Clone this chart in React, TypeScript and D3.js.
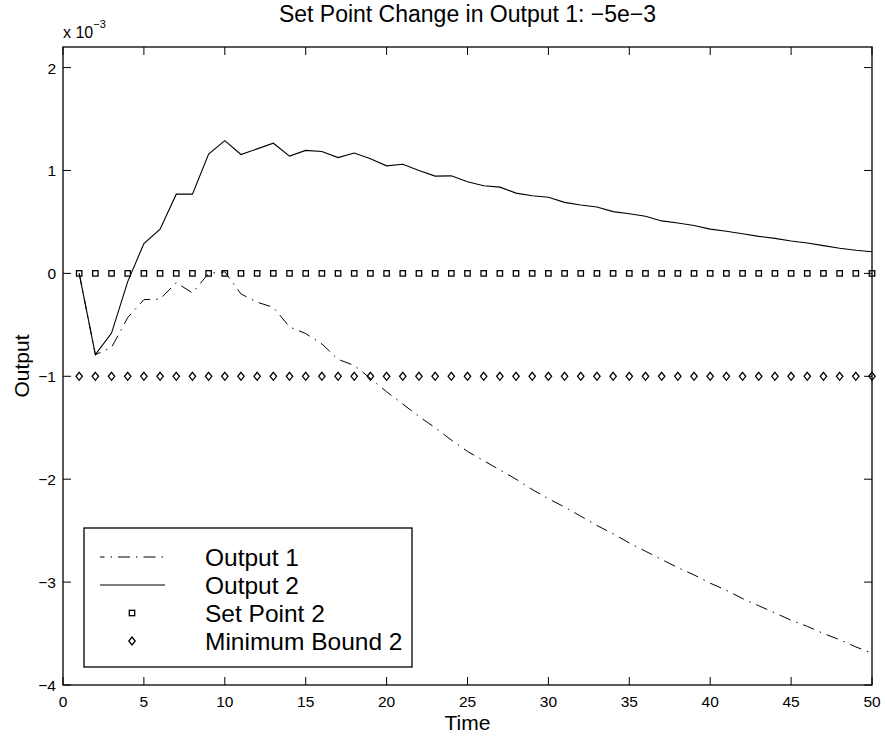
import React from "react";
import * as d3 from "d3";

const time: number[] = d3.range(1, 51);

const output1: number[] = [
  0, -0.79, -0.72, -0.43, -0.255, -0.25, -0.09, -0.19, 0.0, 0.015,
  -0.2, -0.28, -0.33, -0.52, -0.585, -0.685, -0.835, -0.895, -1.02, -1.15,
  -1.27, -1.39, -1.5, -1.62, -1.73, -1.82, -1.91, -2.0, -2.1, -2.19,
  -2.27, -2.36, -2.45, -2.53, -2.62, -2.7, -2.78, -2.86, -2.93, -3.01,
  -3.08, -3.16, -3.23, -3.3, -3.37, -3.43, -3.5, -3.56, -3.63, -3.69,
];

const output2: number[] = [
  0, -0.79, -0.58, -0.08, 0.29, 0.43, 0.77, 0.77, 1.16, 1.29,
  1.155, 1.21, 1.265, 1.14, 1.195, 1.185, 1.125, 1.17, 1.115, 1.045,
  1.06, 1.0, 0.945, 0.948, 0.89, 0.852, 0.838, 0.78, 0.755, 0.74,
  0.69, 0.665, 0.645, 0.6, 0.58, 0.555, 0.51, 0.49, 0.465, 0.43,
  0.41, 0.385, 0.36, 0.34, 0.315, 0.295, 0.27, 0.245, 0.225, 0.21,
];

const setPoint2Value = 0;
const minBound2Value = -1;

const xTicks: number[] = [0, 5, 10, 15, 20, 25, 30, 35, 40, 45, 50];
const yTicks: number[] = [-4, -3, -2, -1, 0, 1, 2];

const legendLabels: string[] = ["Output 1", "Output 2", "Set Point 2", "Minimum Bound 2"];

const W = 885;
const H = 736;
const M = { left: 63, right: 872, top: 47, bottom: 685 };
const FONT = "'Liberation Sans', Arial, Helvetica, sans-serif";
const DASHDOT = "12,6,1.5,6";

function fmt(v: number) {
  return v < 0 ? "\u2212" + Math.abs(v) : String(v);
}

function Square({ cx, cy }: { cx: number; cy: number }) {
  return <rect x={cx - 2.7} y={cy - 2.7} width={5.4} height={5.4} fill="none" stroke="#000" strokeWidth={1.3} />;
}

function Diamond({ cx, cy }: { cx: number; cy: number }) {
  const p = `M${cx},${cy - 4}L${cx + 3.2},${cy}L${cx},${cy + 4}L${cx - 3.2},${cy}Z`;
  return <path d={p} fill="none" stroke="#000" strokeWidth={1.3} />;
}

export default function App() {
  const x = d3.scaleLinear().domain([0, 50]).range([M.left, M.right]);
  const y = d3.scaleLinear().domain([-4, 2.2]).range([M.bottom, M.top]);

  const line = d3
    .line<number>()
    .x((_, i) => x(time[i]))
    .y((d) => y(d));

  const tick = 8;
  const legX0 = 84, legY0 = 528, legX1 = 412, legY1 = 667;
  const rowY = [557, 585, 613, 641];

  return (
    <svg
      width={W}
      height={H}
      style={{ position: "absolute", left: 0, top: 0, display: "block", background: "#fff" }}
      fontFamily={FONT}
    >
      <rect x={0} y={0} width={W} height={H} fill="#fff" />

      {/* ticks */}
      {xTicks.map((t) => (
        <g key={"xt" + t}>
          <line x1={x(t)} x2={x(t)} y1={M.bottom} y2={M.bottom - tick} stroke="#000" strokeWidth={1} />
          <line x1={x(t)} x2={x(t)} y1={M.top} y2={M.top + tick} stroke="#000" strokeWidth={1} />
          <text x={x(t)} y={707} fontSize={15.5} textAnchor="middle">{fmt(t)}</text>
        </g>
      ))}
      {yTicks.map((t) => (
        <g key={"yt" + t}>
          <line x1={M.left} x2={M.left + tick} y1={y(t)} y2={y(t)} stroke="#000" strokeWidth={1} />
          <line x1={M.right} x2={M.right - tick} y1={y(t)} y2={y(t)} stroke="#000" strokeWidth={1} />
          <text x={56} y={y(t) + 6} fontSize={15.5} textAnchor="end">{fmt(t)}</text>
        </g>
      ))}

      {/* exponent */}
      <text x={63} y={38} fontSize={16}>
        x 10
        <tspan dy={-10} fontSize={11}>{"\u22123"}</tspan>
      </text>

      {/* markers */}
      {time.map((t) => (
        <Square key={"sq" + t} cx={x(t)} cy={y(setPoint2Value)} />
      ))}
      {time.map((t) => (
        <Diamond key={"dm" + t} cx={x(t)} cy={y(minBound2Value)} />
      ))}

      {/* lines */}
      <path d={line(output1) || ""} fill="none" stroke="#000" strokeWidth={1} strokeDasharray={DASHDOT} />
      <path d={line(output2) || ""} fill="none" stroke="#000" strokeWidth={1.1} />

      {/* axes box */}
      <rect x={M.left} y={M.top} width={M.right - M.left} height={M.bottom - M.top} fill="none" stroke="#000" strokeWidth={1.3} />

      {/* legend */}
      <rect x={legX0} y={legY0} width={legX1 - legX0} height={legY1 - legY0} fill="#fff" stroke="#000" strokeWidth={1.3} />
      <line x1={100} x2={165} y1={rowY[0]} y2={rowY[0]} stroke="#000" strokeWidth={1} strokeDasharray={DASHDOT} strokeDashoffset={-18} />
      <line x1={100} x2={165} y1={rowY[1]} y2={rowY[1]} stroke="#000" strokeWidth={1.1} />
      <Square cx={132} cy={rowY[2]} />
      <Diamond cx={132} cy={rowY[3]} />
      {legendLabels.map((l, i) => (
        <text key={l} x={205} y={rowY[i] + 8.5} fontSize={24.5}>{l}</text>
      ))}

      {/* title & labels */}
      <text x={(M.left + M.right) / 2} y={22} fontSize={23} textAnchor="middle">
        Set Point Change in Output 1: {"\u22125e\u22123"}
      </text>
      <text x={(M.left + M.right) / 2} y={730} fontSize={21} textAnchor="middle">Time</text>
      <text transform={`translate(29,${y(-0.9)}) rotate(-90)`} fontSize={21} textAnchor="middle">Output</text>
    </svg>
  );
}
